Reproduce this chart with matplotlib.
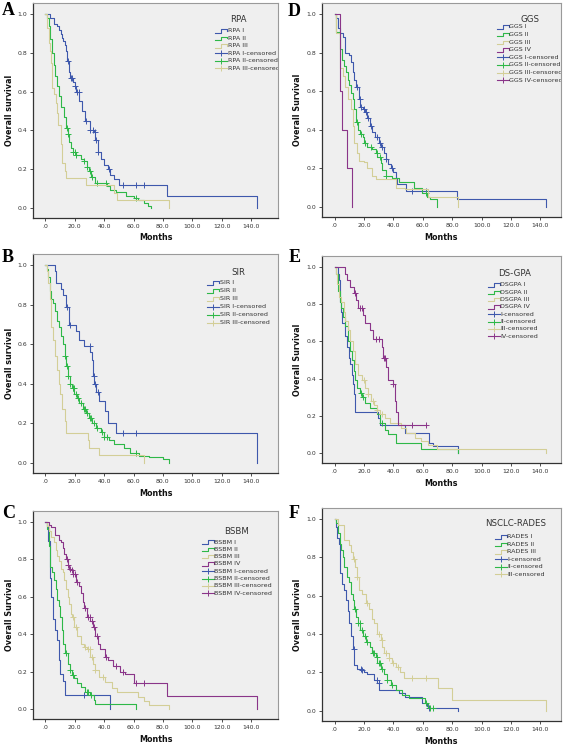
import matplotlib
matplotlib.use("Agg")
import matplotlib.pyplot as plt

W, H = 567, 745

BLUE = "#3E58AC"
GREEN = "#2EB848"
TAN = "#D3CE97"
PURPLE = "#8A3589"

# ---- A: RPA (event times, survival after each step, censored times)
rpa1_t = [3, 6, 8, 9, 10.5, 11, 12, 13, 14, 15, 16, 17, 18.5, 20, 21, 23, 25, 27, 30, 33, 34, 35.5, 37.5, 40, 42.5, 44, 46.5, 50, 83, 144]
rpa1_s = [0.98, 0.95, 0.94, 0.92, 0.90, 0.875, 0.86, 0.84, 0.81, 0.76, 0.70, 0.67, 0.65, 0.63, 0.60, 0.55, 0.50, 0.45, 0.40, 0.39, 0.35, 0.29, 0.25, 0.22, 0.20, 0.17, 0.15, 0.12, 0.06, 0.0]
rpa1_c = [15.5, 17.2, 18, 20.3, 21.3, 22.5, 27.5, 30.5, 32.3, 33.5, 34.5, 36, 43.5, 53, 62, 67]
rpa2_t = [1.3, 2.5, 3.4, 4.7, 5.6, 6.5, 7.8, 9.2, 10.7, 12.3, 14, 15.2, 16.3, 17.4, 18.6, 21, 24, 26, 28, 29.5, 31, 34, 42, 44, 48, 55, 60, 63, 67, 70, 72]
rpa2_s = [0.98, 0.94, 0.87, 0.80, 0.74, 0.68, 0.63, 0.58, 0.52, 0.47, 0.41, 0.38, 0.34, 0.31, 0.29, 0.27, 0.25, 0.24, 0.21, 0.19, 0.16, 0.13, 0.11, 0.09, 0.08, 0.06, 0.05, 0.04, 0.025, 0.01, 0.0]
rpa2_c = [14.5, 15.5, 19, 19.8, 21, 26.5, 28, 30, 31.5, 35, 41, 62]
rpa3_t = [1, 2.5, 3.4, 4, 4.7, 5.6, 7, 8, 8.5, 10.3, 11.4, 13, 14, 27.5, 46.5, 49, 84]
rpa3_s = [0.93, 0.85, 0.81, 0.75, 0.62, 0.59, 0.54, 0.49, 0.43, 0.33, 0.23, 0.19, 0.155, 0.115, 0.077, 0.04, 0.0]
rpa3_c = []

# ---- B: SIR
sir1_t = [6.3, 7.4, 10.8, 12, 14, 16, 21, 23, 26.5, 30.5, 31.6, 32.5, 33.2, 34.3, 36.5, 40.6, 42.8, 48.2, 144]
sir1_s = [0.97, 0.91, 0.88, 0.85, 0.79, 0.70, 0.665, 0.62, 0.59, 0.56, 0.52, 0.44, 0.40, 0.36, 0.31, 0.26, 0.20, 0.15, 0.0]
sir1_c = [14.5, 17, 30, 33, 34, 35.5, 53, 62]
sir2_t = [0.7, 1.8, 2.9, 4, 5.2, 6.3, 7.8, 9.2, 10.8, 11.9, 13, 14.1, 15.2, 16.8, 18.2, 19.7, 21.3, 23.1, 25.3, 27.6, 29.8, 31.6, 34.3, 37.7, 39.9, 43.3, 46.6, 53.4, 57.8, 63.5, 70.2, 80.3, 84]
sir2_s = [0.98, 0.94, 0.87, 0.83, 0.81, 0.77, 0.72, 0.69, 0.64, 0.60, 0.54, 0.49, 0.44, 0.40, 0.38, 0.35, 0.325, 0.30, 0.27, 0.25, 0.225, 0.20, 0.175, 0.157, 0.13, 0.115, 0.093, 0.073, 0.047, 0.034, 0.027, 0.017, 0.0]
sir2_c = [13.5, 14.5, 15.5, 17, 18.5, 19, 19.5, 21, 22, 24, 26, 27, 28.5, 30.5, 31, 33, 35, 38.5, 40, 42, 62]
sir3_t = [0.7, 1.8, 2.9, 4, 5.2, 6.3, 7.8, 9, 10.1, 11.4, 13, 14.1, 28.7, 29.8, 36.5, 67]
sir3_s = [0.97, 0.91, 0.83, 0.69, 0.62, 0.54, 0.47, 0.40, 0.35, 0.27, 0.21, 0.15, 0.115, 0.073, 0.04, 0.0]
sir3_c = []

# ---- C: BSBM
bsbm1_t = [0.7, 1.8, 2.9, 3.3, 4, 5, 6.2, 7.8, 9.1, 10, 11.8, 13.5, 44]
bsbm1_s = [0.98, 0.90, 0.82, 0.70, 0.60, 0.48, 0.42, 0.37, 0.26, 0.19, 0.15, 0.075, 0.0]
bsbm1_c = [26]
bsbm2_t = [1.1, 2.4, 3.3, 4.7, 5.5, 6.9, 7.8, 9.1, 10, 11.3, 12.2, 13.3, 15.1, 16.6, 18, 19.5, 21.7, 24, 26.8, 30.6, 32.8, 34, 62]
bsbm2_s = [0.96, 0.87, 0.76, 0.73, 0.69, 0.64, 0.58, 0.55, 0.49, 0.42, 0.35, 0.30, 0.24, 0.21, 0.18, 0.165, 0.14, 0.12, 0.093, 0.075, 0.05, 0.025, 0.0]
bsbm2_c = [14, 17, 18.5, 19, 28, 29, 31]
bsbm3_t = [1.1, 2.4, 4, 5.5, 6.9, 7.8, 9.1, 10.6, 11.8, 12.9, 14, 15.1, 16.2, 17.3, 18.4, 19.5, 21.7, 24, 26.2, 28.4, 30.6, 32.2, 33.9, 36.2, 40.6, 45, 48.4, 62.8, 67.2, 70.6, 84]
bsbm3_s = [0.98, 0.95, 0.92, 0.89, 0.85, 0.82, 0.79, 0.75, 0.73, 0.69, 0.64, 0.60, 0.56, 0.51, 0.49, 0.44, 0.39, 0.35, 0.33, 0.32, 0.28, 0.24, 0.21, 0.17, 0.146, 0.11, 0.093, 0.066, 0.043, 0.021, 0.0]
bsbm3_c = [19, 20.5, 27, 29, 30, 32, 34, 39]
bsbm4_t = [2.4, 4, 6.2, 9.1, 10.6, 11.8, 12.9, 14, 15.1, 16.2, 18, 18.9, 20.6, 22.9, 24, 25.5, 26.2, 28.4, 30.6, 32.2, 33.9, 35.7, 37.3, 40.6, 42.8, 46.1, 50.6, 53.9, 60.6, 83, 144]
bsbm4_s = [0.985, 0.97, 0.93, 0.905, 0.89, 0.86, 0.83, 0.80, 0.77, 0.75, 0.745, 0.72, 0.68, 0.655, 0.62, 0.57, 0.54, 0.49, 0.47, 0.44, 0.39, 0.35, 0.32, 0.28, 0.26, 0.23, 0.20, 0.185, 0.14, 0.07, 0.0]
bsbm4_c = [14.5, 15.5, 16.5, 18, 19, 20, 21.5, 27, 29, 30, 31.5, 33, 35, 41, 48, 53, 62, 67]

# ---- D: GGS
ggs1_t = [1.1, 2.2, 3.8, 5.6, 7.4, 9.6, 11.2, 12.3, 13.5, 14.6, 16.4, 17.3, 19.1, 20.9, 22.4, 24, 25.8, 27.6, 30.3, 31.4, 33.6, 34.8, 36.5, 38.1, 39.7, 41.5, 42.6, 48.7, 83, 144]
ggs1_s = [0.98, 0.93, 0.90, 0.88, 0.80, 0.79, 0.75, 0.70, 0.66, 0.62, 0.56, 0.52, 0.51, 0.49, 0.46, 0.42, 0.39, 0.36, 0.33, 0.31, 0.28, 0.25, 0.22, 0.20, 0.18, 0.15, 0.12, 0.08, 0.04, 0.0]
ggs1_c = [15, 17, 18, 20, 21.5, 22.5, 24.5, 29, 31, 32.5, 35, 39, 42, 53, 62]
ggs2_t = [1.1, 3.4, 5.2, 6.3, 7.8, 9, 10.1, 11.2, 12.3, 13.5, 14.6, 15.7, 17.3, 19.1, 20.2, 22.4, 25.3, 28, 29.1, 31.4, 32.5, 34.8, 39.2, 43.7, 53.8, 59.4, 62.8, 65, 70]
ggs2_s = [0.91, 0.82, 0.76, 0.73, 0.70, 0.66, 0.63, 0.59, 0.56, 0.51, 0.44, 0.40, 0.38, 0.36, 0.33, 0.31, 0.30, 0.28, 0.26, 0.225, 0.19, 0.16, 0.15, 0.13, 0.10, 0.07, 0.05, 0.04, 0.0]
ggs2_c = [15, 18, 21, 25, 29, 31, 35, 62]
ggs3_t = [1.1, 3.4, 5.6, 7.4, 9, 11.2, 12.8, 13.5, 15, 16.4, 20.2, 22.4, 25.8, 28, 41.5, 48.2, 63.9, 84]
ggs3_s = [0.90, 0.72, 0.68, 0.62, 0.56, 0.51, 0.42, 0.33, 0.28, 0.24, 0.23, 0.20, 0.16, 0.145, 0.10, 0.09, 0.05, 0.0]
ggs3_c = []
ggs4_t = [3.8, 5.2, 8.5, 12]
ggs4_s = [0.6, 0.4, 0.2, 0.0]
ggs4_c = []

# ---- E: DS-GPA
dsgpa1_t = [2.5, 2.9, 3.4, 4, 4.7, 5.1, 7.4, 8.5, 9.6, 10.7, 11.9, 12.3, 13, 14.1, 29.8, 30.9, 47.7, 64.4, 66.7, 84]
dsgpa1_s = [0.96, 0.93, 0.87, 0.81, 0.76, 0.70, 0.63, 0.57, 0.51, 0.48, 0.42, 0.37, 0.32, 0.22, 0.19, 0.15, 0.11, 0.054, 0.036, 0.0]
dsgpa1_c = []
dsgpa2_t = [1.1, 2.2, 3.4, 4.7, 5.6, 7.4, 9.2, 10.7, 11.9, 13, 14.1, 15.2, 17.4, 18.6, 20.4, 24.2, 28.6, 30.9, 34.2, 36.5, 42.1, 58.8, 84]
dsgpa2_s = [0.96, 0.87, 0.81, 0.78, 0.73, 0.68, 0.60, 0.55, 0.50, 0.44, 0.39, 0.35, 0.325, 0.30, 0.27, 0.24, 0.21, 0.16, 0.126, 0.10, 0.054, 0.023, 0.0]
dsgpa2_c = [18, 19.5, 32]
dsgpa3_t = [1.1, 1.8, 2.9, 4.7, 6.3, 7.4, 9.2, 10.7, 12.3, 14.1, 15.9, 18.6, 20.4, 22.6, 24.8, 27.1, 28.6, 30.9, 34.2, 37.6, 45.4, 48.8, 54.4, 58.8, 63.3, 70, 144]
dsgpa3_s = [0.96, 0.91, 0.84, 0.81, 0.76, 0.71, 0.66, 0.60, 0.55, 0.48, 0.42, 0.39, 0.35, 0.32, 0.28, 0.26, 0.23, 0.21, 0.19, 0.16, 0.135, 0.11, 0.08, 0.063, 0.045, 0.023, 0.0]
dsgpa3_c = [20, 23, 26, 29, 32]
dsgpa4_t = [7.4, 8.5, 10.7, 13, 14.5, 15.9, 19.7, 20.8, 24.2, 26.4, 32, 33.1, 35.3, 36.5, 39.8, 40.9, 42.1, 43.2, 62]
dsgpa4_s = [0.96, 0.93, 0.89, 0.86, 0.82, 0.78, 0.74, 0.70, 0.66, 0.61, 0.57, 0.51, 0.46, 0.39, 0.37, 0.28, 0.22, 0.15, 0.15]
dsgpa4_c = [14, 17.5, 19, 28, 30, 33.5, 34.5, 40, 53, 62]

# ---- F: NSCLC-RADES
rades1_t = [1.1, 1.8, 2.9, 3.8, 5.2, 6.7, 7.8, 9, 10.1, 11.2, 12.3, 13.5, 15, 18.6, 20.2, 22.4, 26.9, 29.1, 30.3, 43.7, 48.2, 59.4, 62.8, 63.9, 84]
rades1_s = [0.96, 0.90, 0.87, 0.72, 0.66, 0.63, 0.58, 0.52, 0.46, 0.39, 0.32, 0.24, 0.22, 0.215, 0.20, 0.19, 0.16, 0.145, 0.11, 0.092, 0.07, 0.04, 0.026, 0.014, 0.0]
rades1_c = [13, 18, 19, 29, 30, 64]
rades2_t = [1.1, 2.2, 3.4, 4.5, 5.6, 6.7, 8.3, 9.6, 11.2, 12.3, 13.5, 14.6, 15.7, 17.3, 19.1, 21.3, 24, 25.8, 28, 29.1, 31.4, 33.6, 35.9, 38.1, 41.5, 46, 50.4, 61.7, 63.9, 67]
rades2_s = [0.98, 0.925, 0.87, 0.84, 0.80, 0.75, 0.70, 0.67, 0.61, 0.58, 0.53, 0.49, 0.46, 0.42, 0.39, 0.36, 0.335, 0.30, 0.28, 0.25, 0.22, 0.19, 0.16, 0.135, 0.11, 0.083, 0.066, 0.04, 0.014, 0.014]
rades2_c = [14, 16, 17, 19, 20.5, 22, 26, 27, 29, 30, 31, 32.5, 36, 39, 62, 65, 67]
rades3_t = [2.2, 6.7, 10.1, 11.2, 12.3, 14.1, 15, 16.4, 18.6, 21.3, 23.5, 25.3, 26.9, 29.1, 31.4, 32.5, 33.6, 37, 39.2, 41.5, 44.8, 47.1, 70.6, 80, 144]
rades3_s = [0.97, 0.89, 0.865, 0.83, 0.79, 0.75, 0.70, 0.63, 0.61, 0.56, 0.53, 0.48, 0.46, 0.40, 0.37, 0.335, 0.30, 0.275, 0.25, 0.23, 0.205, 0.17, 0.118, 0.057, 0.0]
rades3_c = [13.5, 15.5, 22, 30, 32, 35, 37, 40, 43, 53, 62]

x_ticks = [0, 20, 40, 60, 80, 100, 120, 140]
x_ticklabels = [".0", "20.0", "40.0", "60.0", "80.0", "100.0", "120.0", "140.0"]
y_ticks = [0.0, 0.2, 0.4, 0.6, 0.8, 1.0]
y_ticklabels = ["0.0", "0.2", "0.4", "0.6", "0.8", "1.0"]

PANELS = [
    dict(letter="A", title="RPA", ylabel="Overall survival",
         curves=[(rpa1_t, rpa1_s, rpa1_c, BLUE), (rpa2_t, rpa2_s, rpa2_c, GREEN), (rpa3_t, rpa3_s, rpa3_c, TAN)],
         labels=["RPA I", "RPA II", "RPA III", "RPA I-censored", "RPA II-censored", "RPA III-censored"],
         box=(33, 3, 278, 218), letter_xy=(2, 15), leg=(205, 16, 182, 28, 7.4)),
    dict(letter="D", title="GGS", ylabel="Overall Survival",
         curves=[(ggs1_t, ggs1_s, ggs1_c, BLUE), (ggs2_t, ggs2_s, ggs2_c, GREEN), (ggs3_t, ggs3_s, ggs3_c, TAN), (ggs4_t, ggs4_s, ggs4_c, PURPLE)],
         labels=["GGS I", "GGS II", "GGS III", "GGS IV", "GGS I-censored", "GGS II-censored", "GGS III-censored", "GGS IV-censored"],
         box=(322, 3, 561, 217), letter_xy=(288, 16), leg=(208, 16, 175, 24, 7.6)),
    dict(letter="B", title="SIR", ylabel="Overall survival",
         curves=[(sir1_t, sir1_s, sir1_c, BLUE), (sir2_t, sir2_s, sir2_c, GREEN), (sir3_t, sir3_s, sir3_c, TAN)],
         labels=["SIR I", "SIR II", "SIR III", "SIR I-censored", "SIR II-censored", "SIR III-censored"],
         box=(33, 254, 278, 473), letter_xy=(2, 262), leg=(205, 18, 174, 29, 8.0)),
    dict(letter="E", title="DS-GPA", ylabel="Overall Survival",
         curves=[(dsgpa1_t, dsgpa1_s, dsgpa1_c, BLUE), (dsgpa2_t, dsgpa2_s, dsgpa2_c, GREEN), (dsgpa3_t, dsgpa3_s, dsgpa3_c, TAN), (dsgpa4_t, dsgpa4_s, dsgpa4_c, PURPLE)],
         labels=["DSGPA I", "DSGPA II", "DSGPA III", "DSGPA IV", "I-censored", "II-censored", "III-censored", "IV-censored"],
         box=(322, 256, 561, 463), letter_xy=(289, 262), leg=(193, 17, 166, 29, 7.3)),
    dict(letter="C", title="BSBM", ylabel="Overall Survival",
         curves=[(bsbm1_t, bsbm1_s, bsbm1_c, BLUE), (bsbm2_t, bsbm2_s, bsbm2_c, GREEN), (bsbm3_t, bsbm3_s, bsbm3_c, TAN), (bsbm4_t, bsbm4_s, bsbm4_c, PURPLE)],
         labels=["BSBM I", "BSBM II", "BSBM III", "BSBM IV", "BSBM I-censored", "BSBM II-censored", "BSBM III-censored", "BSBM IV-censored"],
         box=(33, 511, 278, 719), letter_xy=(2, 518), leg=(204, 21, 169, 31, 7.3)),
    dict(letter="F", title="NSCLC-RADES", ylabel="Overall Survival",
         curves=[(rades1_t, rades1_s, rades1_c, BLUE), (rades2_t, rades2_s, rades2_c, GREEN), (rades3_t, rades3_s, rades3_c, TAN)],
         labels=["RADES I", "RADES II", "RADES III", "I-censored", "II-censored", "III-censored"],
         box=(322, 508, 561, 721), letter_xy=(289, 518), leg=(194, 16, 173, 29, 7.4)),
]


def surv_at(t, s, x):
    v = 1.0
    for ti, si in zip(t, s):
        if ti <= x:
            v = si
        else:
            break
    return v


def draw_legend(ax, p, aw, ah):
    tx, ty, ix, y0, dy = p["leg"]
    ax.text(tx / aw, 1 - ty / ah, p["title"], transform=ax.transAxes,
            ha="center", va="center", fontsize=6.2, color="#333")
    ncur = len(p["curves"])
    iw, hh = 12.0, 1.7
    for i, lab in enumerate(p["labels"]):
        col = p["curves"][i % ncur][3]
        yp = y0 + i * dy
        if i < ncur:
            # little step icon like SPSS draws
            xs = [ix, ix + 0.5 * iw, ix + 0.5 * iw, ix + iw, ix + iw]
            ys = [yp + hh, yp + hh, yp - hh, yp - hh, yp]
            ax.plot([x / aw for x in xs], [1 - y / ah for y in ys], transform=ax.transAxes,
                    color=col, lw=0.8, clip_on=False)
        else:
            ax.plot([ix / aw, (ix + iw) / aw], [1 - yp / ah] * 2, transform=ax.transAxes,
                    color=col, lw=0.8, clip_on=False)
            ax.plot([(ix + iw / 2) / aw], [1 - yp / ah], transform=ax.transAxes,
                    color=col, marker="+", ms=4.5, mew=0.7, clip_on=False)
        t = ax.text((ix + iw + 0.5) / aw, 1 - yp / ah, lab, transform=ax.transAxes,
                    ha="left", va="center", fontsize=4.6, color="#333", clip_on=True)
        t.set_clip_path(ax.patch)


fig = plt.figure(figsize=(W / 100, H / 100), dpi=100)
fig.patch.set_facecolor("white")

for p in PANELS:
    l, t, r, b = p["box"]
    aw, ah = r - l, b - t
    ax = fig.add_axes([l / W, 1 - b / H, aw / W, ah / H])
    ax.set_facecolor("#EFEFEF")
    for tt, ss, cc, col in p["curves"]:
        ax.step([0] + tt, [1.0] + ss, where="post", color=col, lw=0.8)
        if cc:
            ax.plot(cc, [surv_at(tt, ss, c) for c in cc], ls="none", marker="+",
                    ms=4.5, mew=0.7, color=col)
    left_col = l < 100
    ax.set_xlim(-8.5, 158.4 if left_col else 154)
    ax.set_ylim(-0.053, 1.058)
    ax.set_xticks(x_ticks)
    ax.set_xticklabels(x_ticklabels)
    ax.set_yticks(y_ticks)
    ax.set_yticklabels(y_ticklabels)
    ax.tick_params(length=2.5, width=0.6, labelsize=4.4, pad=1.5, colors="#333")
    for side in ("left", "bottom"):
        ax.spines[side].set_color("#333")
        ax.spines[side].set_linewidth(0.9)
    for side in ("top", "right"):
        ax.spines[side].set_color("#9A9A9A")
        ax.spines[side].set_linewidth(0.8)
    ax.set_xlabel("Months", fontsize=5.8, fontweight="bold", color="#111")
    ax.xaxis.set_label_coords(0.5, -15.5 / ah)
    ax.set_ylabel(p["ylabel"], fontsize=5.8, fontweight="bold", color="#111")
    ax.yaxis.label.set_va("center")
    ax.yaxis.set_label_coords(((10 if left_col else 298) - l) / aw, 0.5)
    draw_legend(ax, p, aw, ah)
    lx, ly = p["letter_xy"]
    fig.text(lx / W, 1 - ly / H, p["letter"], fontsize=13, fontweight="bold",
             family="Liberation Serif", ha="left", va="baseline")

fig.savefig("out.png", dpi=100)
